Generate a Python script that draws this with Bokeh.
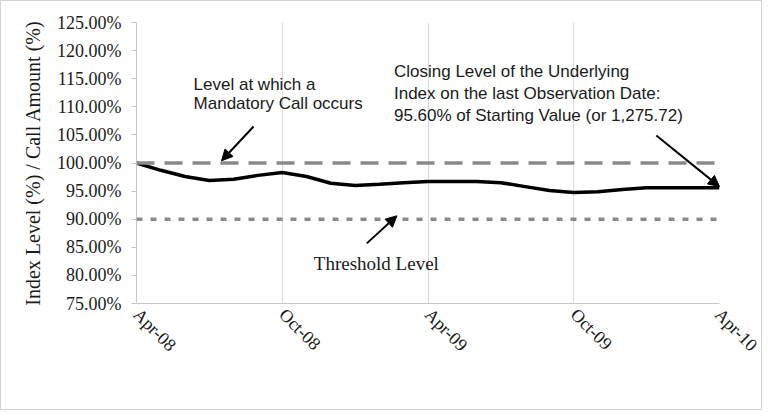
import math
from bokeh.plotting import figure
from bokeh.models import (Range1d, FixedTicker, PrintfTickFormatter, Label,
                          Arrow, NormalHead, Span, ColumnDataSource)
from bokeh.embed import file_html
from bokeh.resources import INLINE

# ---- data ----
months = ["Apr-08", "May-08", "Jun-08", "Jul-08", "Aug-08", "Sep-08", "Oct-08",
          "Nov-08", "Dec-08", "Jan-09", "Feb-09", "Mar-09", "Apr-09", "May-09",
          "Jun-09", "Jul-09", "Aug-09", "Sep-09", "Oct-09", "Nov-09", "Dec-09",
          "Jan-10", "Feb-10", "Mar-10", "Apr-10"]
index_level = [100.0, 98.7, 97.6, 96.9, 97.1, 97.8, 98.3, 97.6, 96.4, 96.0,
               96.2, 96.5, 96.7, 96.7, 96.7, 96.5, 95.8, 95.1, 94.75, 94.9,
               95.3, 95.6, 95.6, 95.6, 95.6]
tick_labels = ["Apr-08", "Oct-08", "Apr-09", "Oct-09", "Apr-10"]
y_ticks = [75, 80, 85, 90, 95, 100, 105, 110, 115, 120, 125]
call_level = 100.0
threshold_level = 90.0

SERIF = "Liberation Serif"
SANS = "Liberation Sans"
TXT = "#1a1a1a"

x = list(range(len(months)))
src = ColumnDataSource(dict(x=x, y=index_level, month=months))

p = figure(width=762, height=410, output_backend="svg", toolbar_location=None,
           x_range=Range1d(0, len(months) - 1), y_range=Range1d(y_ticks[0], y_ticks[-1]),
           min_border_left=135, min_border_right=44, min_border_top=21,
           min_border_bottom=108)
p.outline_line_color = None
p.background_fill_color = "white"
p.border_fill_color = "white"
p.styles = {"border": "1px solid #d4d4d4"}

# axes
tick_pos = [months.index(t) for t in tick_labels]
p.xaxis.ticker = FixedTicker(ticks=tick_pos)
p.xaxis.major_label_overrides = {i: t for i, t in zip(tick_pos, tick_labels)}
p.xaxis.major_label_orientation = -math.pi / 4
p.xaxis.major_label_text_font = SERIF
p.xaxis.major_label_text_font_size = "18px"
p.xaxis.major_label_text_color = TXT
p.xaxis.axis_line_color = "#c8c8c8"
p.xaxis.major_tick_line_color = None
p.xaxis.minor_tick_line_color = None
p.xaxis.major_label_standoff = 2

p.yaxis.ticker = FixedTicker(ticks=y_ticks)
p.yaxis.formatter = PrintfTickFormatter(format="%.2f%%")
p.yaxis.major_label_text_font = SERIF
p.yaxis.major_label_text_font_size = "18px"
p.yaxis.major_label_text_color = TXT
p.yaxis.axis_line_color = "#c8c8c8"
p.yaxis.major_tick_line_color = "#c8c8c8"
p.yaxis.major_tick_out = 5
p.yaxis.major_tick_in = 0
p.yaxis.minor_tick_line_color = None
p.yaxis.major_label_standoff = 10
p.yaxis.axis_label = "Index Level (%) / Call Amount (%)"
p.yaxis.axis_label_text_font = SERIF
p.yaxis.axis_label_text_font_size = "20px"
p.yaxis.axis_label_text_font_style = "normal"
p.yaxis.axis_label_text_color = TXT
p.yaxis.axis_label_standoff = 10

p.xgrid.ticker = FixedTicker(ticks=tick_pos)
p.xgrid.grid_line_color = "#d9d9d9"
p.ygrid.grid_line_color = None

# reference levels
p.add_layout(Span(location=call_level, dimension="width", line_color="#8a8a8a",
                  line_width=3.5, line_dash="18 10"))
p.add_layout(Span(location=threshold_level, dimension="width", line_color="#8a8a8a",
                  line_width=3.5, line_dash="6 8"))

# index line
p.line("x", "y", source=src, line_color="black", line_width=3.5)

# annotations
p.add_layout(Label(x=2.35, y=115.6, text="Level at which a\nMandatory Call occurs",
                   text_font=SANS, text_font_size="17px", text_color=TXT,
                   text_baseline="top", text_line_height=1.0))
p.add_layout(Label(x=10.6, y=117.9,
                   text="Closing Level of the Underlying\nIndex on the last Observation Date:\n95.60% of Starting Value (or 1,275.72)",
                   text_font=SANS, text_font_size="17px", text_color=TXT,
                   text_baseline="top", text_line_height=1.15))
p.add_layout(Label(x=7.3, y=82.1, text="Threshold Level",
                   text_font=SERIF, text_font_size="19px", text_color=TXT,
                   text_baseline="alphabetic"))

def arrow(x0, y0, x1, y1):
    p.add_layout(Arrow(x_start=x0, y_start=y0, x_end=x1, y_end=y1,
                       line_color="black", line_width=2,
                       end=NormalHead(size=11, fill_color="black", line_color="black")))

arrow(4.82, 106.5, 3.5, 100.4)
arrow(21.4, 104.9, 24.0, 95.8)
arrow(9.48, 85.7, 10.72, 90.6)

open("out.html", "w").write(file_html(p, INLINE))
